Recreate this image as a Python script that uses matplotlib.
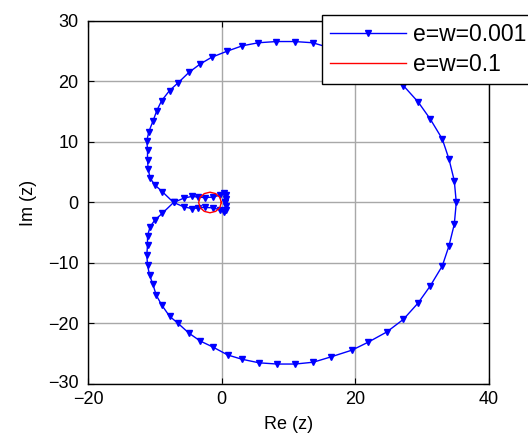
import matplotlib
matplotlib.use("Agg")
import matplotlib.pyplot as plt
from matplotlib.transforms import ScaledTranslation

# blue curve e=w=0.001
blue_x = [0.5, 0.7, 0.6, 0.3, -0.3, -1.3, -2.5, -3.5, -4.5, -5.7, -7.2, -8.9, -10.0, -10.7, -11.1,
          -11.1, -11.2, -11.1, -10.8, -10.3, -9.8, -9.0, -7.8, -6.5, -4.9, -3.2, -1.3, 0.9, 3.0, 5.6,
          8.3, 11.0, 13.7, 16.4, 19.5, 21.9, 24.7, 27.2, 29.4, 31.2, 33.0, 34.0, 34.8, 35.1, 34.8,
          34.0, 33.0, 31.2, 29.4, 27.2, 24.7, 21.9, 19.5, 16.4, 13.6, 10.9, 8.2, 5.5, 3.1, 0.8,
          -1.5, -3.2, -4.9, -6.5, -7.8, -9.0, -9.7, -10.3, -10.9, -11.2, -11.1, -11.1, -11.0, -10.7,
          -10.0, -8.9, -7.2, -5.7, -4.5, -3.5, -2.5, -1.3, -0.3, 0.3, 0.6, 0.7, 0.5]
blue_y = [0.0, 0.6, 1.2, 1.6, 1.2, 0.9, 0.8, 0.9, 1.0, 0.7, 0.0, -1.8, -2.9, -4.0, -5.5,
          -7.0, -8.7, -10.3, -12.0, -13.5, -15.3, -16.9, -18.8, -20.0, -21.6, -22.9, -23.9, -25.2, -25.9, -26.5,
          -26.7, -26.7, -26.4, -25.5, -24.4, -23.1, -21.4, -19.3, -16.6, -13.8, -10.5, -7.2, -3.6, 0.0, 3.6,
          7.2, 10.5, 13.8, 16.6, 19.3, 21.4, 23.1, 24.4, 25.5, 26.4, 26.6, 26.6, 26.4, 25.9, 25.0,
          24.0, 22.9, 21.5, 19.8, 18.5, 16.8, 15.2, 13.4, 11.7, 10.2, 8.7, 7.0, 5.5, 4.0,
          2.9, 1.8, 0.0, -0.7, -1.0, -0.9, -0.8, -0.9, -1.2, -1.6, -1.2, -0.6, 0.0]

# red curve e=w=0.1
red_x = [-0.05, -0.28, -0.9, -1.75, -2.6, -3.22, -3.45, -3.22, -2.6, -1.75, -0.9, -0.28, -0.05]
red_y = [0.0, 0.85, 1.47, 1.7, 1.47, 0.85, 0.0, -0.85, -1.47, -1.7, -1.47, -0.85, 0.0]

x_ticks = [-20, 0, 20, 40]
y_ticks = [-30, -20, -10, 0, 10, 20, 30]

plt.rcParams['font.family'] = ['Liberation Sans', 'DejaVu Sans']

fig = plt.figure(figsize=(5.28, 4.46), dpi=100)
ax = fig.add_axes([0.1667, 0.139, 0.7595, 0.814])

ax.plot(blue_x, blue_y, '-', color='#0000ff', lw=1.0, marker='v', ms=3.8,
        mec='#0000ff', mfc='#0000ff', label='e=w=0.001', zorder=3)
ax.plot(red_x, red_y, '-', color='#ff0000', lw=1.0, label='e=w=0.1', zorder=4)

ax.set_xlim(-20, 40)
ax.set_ylim(-30, 30)
ax.set_xticks(x_ticks)
ax.set_yticks(y_ticks)
ax.grid(True, color='#a8a8a8', lw=1.0, ls='-')
ax.set_axisbelow(True)
ax.tick_params(direction='in', top=True, right=True, labelsize=13, length=4, width=0.8)
ax.tick_params(axis='x', pad=5)
ax.tick_params(axis='y', pad=7)
for s in ax.spines.values():
    s.set_linewidth(1.0)
ax.set_xlabel('Re (z)', fontsize=13, labelpad=6)
ax.set_ylabel('Im (z)', fontsize=13, labelpad=8)

fig.canvas.draw()
ylabels = ax.get_yticklabels()
off = ScaledTranslation(0, 2 / 72, fig.dpi_scale_trans)
ylabels[0].set_transform(ylabels[0].get_transform() + off)

leg = fig.legend(loc='upper left', bbox_to_anchor=(0.61, 0.967), bbox_transform=fig.transFigure,
                 fontsize=16.5, frameon=True, fancybox=False, framealpha=1, edgecolor='black',
                 handlelength=3.3, handletextpad=0.3, borderpad=0.35, labelspacing=0.3,
                 borderaxespad=0)
leg.get_frame().set_linewidth(1.0)

fig.savefig('out.png', dpi=100)
